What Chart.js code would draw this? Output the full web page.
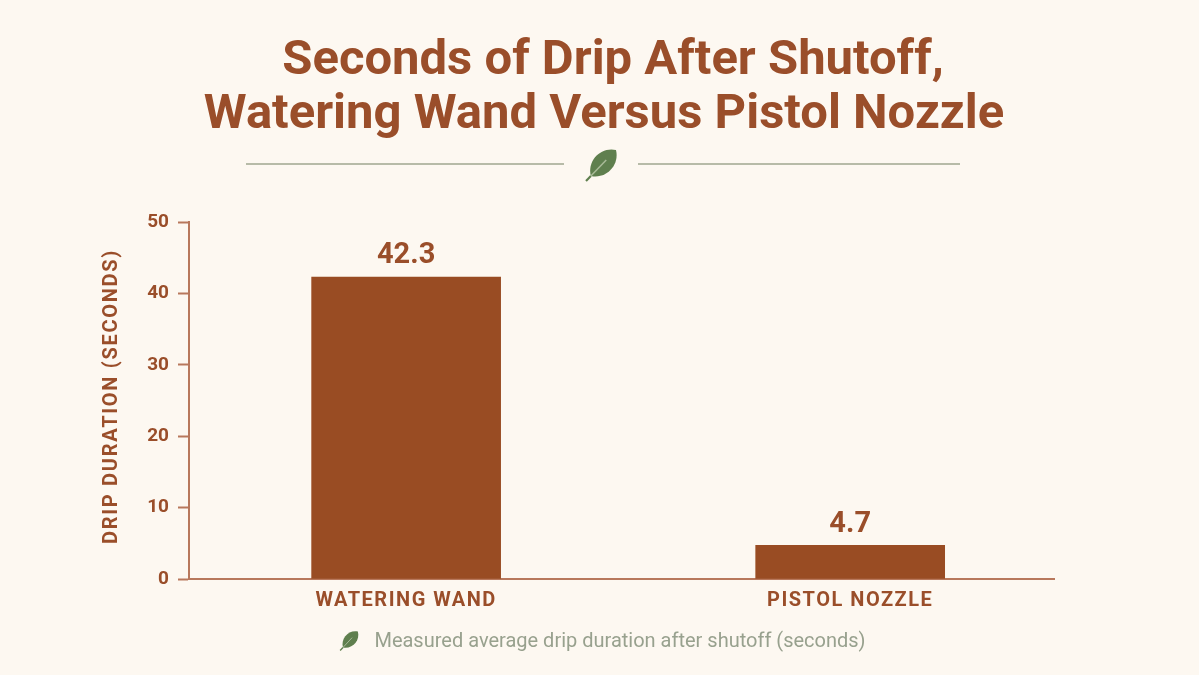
<!DOCTYPE html>
<html>
<head>
<meta charset="utf-8">
<script src="https://cdn.jsdelivr.net/npm/chart.js@4"></script>
<style>
html, body { margin: 0; padding: 0; background: #fdf8f1; }
canvas { display: block; }
</style>
</head>
<body>
<canvas id="c" width="1199" height="675" style="width:1199px;height:675px"></canvas>
<script>
const categories = ['WATERING WAND', 'PISTOL NOZZLE'];
const dripSeconds = [42.3, 4.7];
const yTicks = [0, 10, 20, 30, 40, 50];
const titleLines = ['Seconds of Drip After Shutoff,', 'Watering Wand Versus Pistol Nozzle'];
const yTitle = 'DRIP DURATION (SECONDS)';
const footnote = 'Measured average drip duration after shutoff (seconds)';

const BROWN = '#994c23';
const TEXT_BROWN = '#9a4e2a';
const AXIS = '#b8785c';
const GREEN = '#5f7f4e';
const RULE = '#a0a690';
const NOTE = '#98a18e';
const FONT = 'Roboto, "Liberation Sans", sans-serif';

function text(ctx, str, x, y, font, color, spacing) {
  ctx.save();
  ctx.font = font;
  ctx.fillStyle = color;
  ctx.textAlign = 'center';
  ctx.textBaseline = 'middle';
  ctx.letterSpacing = (spacing || 0) + 'px';
  ctx.fillText(str, x, y);
  ctx.restore();
}

// chart.js has no letter spacing option, so wrap the scale's draw call
function spaced(scale, method, spacing, dy) {
  if (scale['_' + method]) return;
  const orig = scale[method];
  scale['_' + method] = orig;
  scale[method] = function (area) {
    const ctx = this.ctx;
    ctx.save();
    ctx.letterSpacing = spacing + 'px';
    ctx.translate(0, dy || 0);
    orig.call(this, area);
    ctx.restore();
  };
}

// leaf with its tip up and to the right, stem down and to the left
function leaf(ctx, x, y, size, angle) {
  ctx.save();
  ctx.translate(x, y);
  ctx.rotate(angle);
  ctx.scale(size, size);
  ctx.fillStyle = GREEN;
  ctx.beginPath();
  ctx.moveTo(0, -1);
  ctx.bezierCurveTo(0.62, -0.62, 0.62, 0.3, 0, 0.68);
  ctx.bezierCurveTo(-0.62, 0.3, -0.62, -0.62, 0, -1);
  ctx.fill();
  ctx.strokeStyle = '#a9bb98';
  ctx.lineWidth = 0.07;
  ctx.beginPath();
  ctx.moveTo(0, -0.35);
  ctx.lineTo(0, 0.68);
  ctx.stroke();
  ctx.strokeStyle = GREEN;
  ctx.lineWidth = 0.1;
  ctx.beginPath();
  ctx.moveTo(0, 0.68);
  ctx.lineTo(0, 1);
  ctx.stroke();
  ctx.restore();
}

const decorations = {
  id: 'decorations',
  beforeDraw(chart) {
    const ctx = chart.ctx;
    ctx.fillStyle = '#fdf8f1';
    ctx.fillRect(0, 0, chart.width, chart.height);
    spaced(chart.scales.x, 'drawLabels', 1.5);
    spaced(chart.scales.y, 'drawTitle', 1.7, -4);
  },
  afterDraw(chart) {
    const ctx = chart.ctx;
    text(ctx, titleLines[0], 613, 62, '700 49px ' + FONT, TEXT_BROWN, 0);
    text(ctx, titleLines[1], 604, 116, '700 49px ' + FONT, TEXT_BROWN, 0);

    ctx.strokeStyle = RULE;
    ctx.lineWidth = 1.5;
    ctx.beginPath();
    ctx.moveTo(246, 164);
    ctx.lineTo(564, 164);
    ctx.moveTo(638, 164);
    ctx.lineTo(960, 164);
    ctx.stroke();
    leaf(ctx, 601, 165.5, 21.5, 0.77);

    const bars = chart.getDatasetMeta(0).data;
    bars.forEach((bar, i) => {
      text(ctx, dripSeconds[i].toFixed(1), bar.x, bar.y - 21, '700 29px ' + FONT, TEXT_BROWN, 0);
    });

    leaf(ctx, 349, 641, 13, 0.75);
    text(ctx, footnote, 620, 642, '400 20px ' + FONT, NOTE, 0);
  }
};

new Chart(document.getElementById('c'), {
  type: 'bar',
  data: {
    datasets: [{
      data: categories.map((c, i) => ({ x: i, y: dripSeconds[i] })),
      backgroundColor: BROWN,
      barThickness: 189
    }]
  },
  plugins: [decorations],
  options: {
    responsive: false,
    animation: false,
    layout: { padding: { top: 222, right: 145, left: 0, bottom: 0 } },
    plugins: {
      legend: { display: false },
      title: { display: false },
      tooltip: { enabled: false }
    },
    scales: {
      x: {
        type: 'linear',
        offset: false,
        min: -0.489,
        max: 1.459,
        afterBuildTicks(scale) { scale.ticks = categories.map((c, i) => ({ value: i })); },
        afterFit(scale) { scale.height = 96; },
        grid: { display: false },
        border: { color: AXIS, width: 2 },
        ticks: {
          autoSkip: false,
          maxRotation: 0,
          padding: 2,
          color: TEXT_BROWN,
          font: { family: FONT, size: 20, weight: '700' },
          callback: (v) => categories[v]
        }
      },
      y: {
        min: 0,
        max: 50,
        afterBuildTicks(scale) { scale.ticks = yTicks.map((v) => ({ value: v })); },
        afterFit(scale) { scale.width = 189; },
        grid: { drawOnChartArea: false, drawTicks: true, color: AXIS, tickLength: 11, tickWidth: 2 },
        border: { color: AXIS, width: 2 },
        ticks: {
          padding: 9,
          color: TEXT_BROWN,
          font: { family: FONT, size: 19, weight: '700' }
        },
        title: {
          display: true,
          text: yTitle,
          color: TEXT_BROWN,
          padding: { top: 100, bottom: 0 },
          font: { family: FONT, size: 20, weight: '700' }
        }
      }
    }
  }
});
</script>
</body>
</html>
